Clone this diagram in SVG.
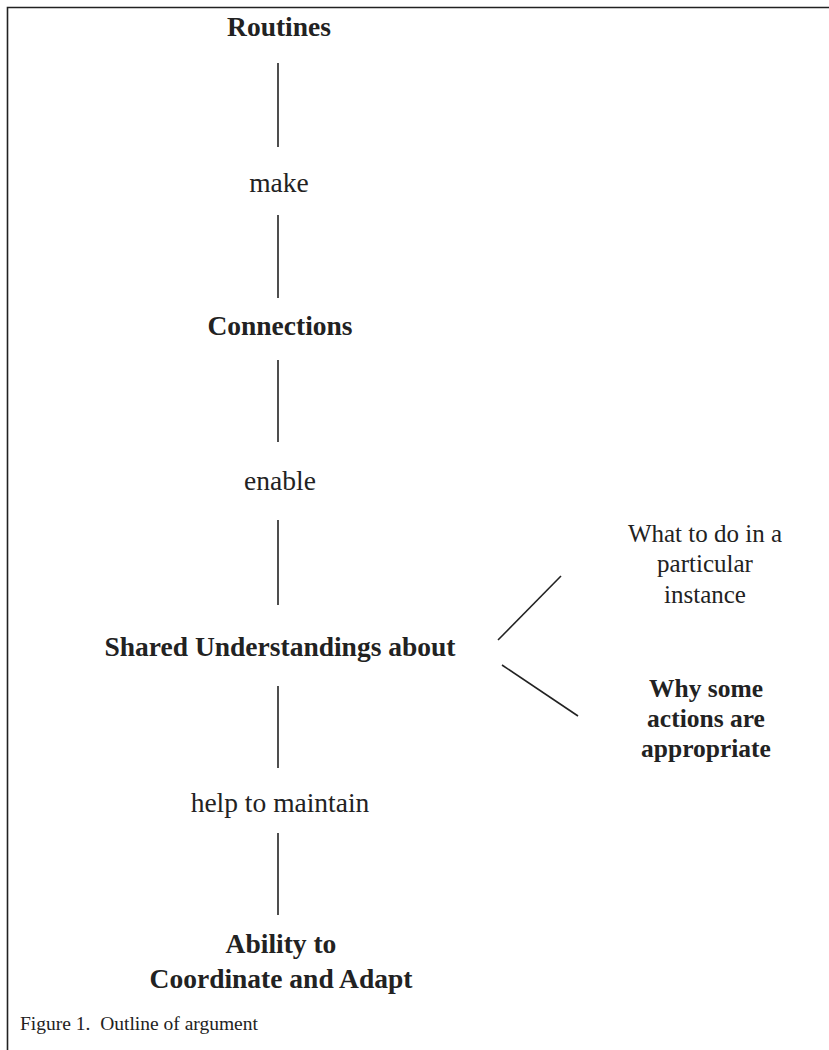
<svg xmlns="http://www.w3.org/2000/svg" width="829" height="1050" viewBox="0 0 829 1050">
<style>
text{font-family:"Liberation Serif","Times New Roman",serif;fill:#222;text-anchor:middle}
.b{font-weight:bold;font-size:27.5px}
.n{font-size:27.5px}
.rn{font-size:25px}
.rb{font-size:25.5px;font-weight:bold}
.c{font-size:19.5px;text-anchor:start}
.ln{stroke:#222;stroke-width:1.6;fill:none}
</style>
<rect x="0" y="0" width="829" height="1050" fill="#fff"/>
<path d="M7.5,1050 V7.5 H829" class="ln" stroke-width="1.5"/>
<g id="connectors">
<line class="ln" x1="278" y1="63" x2="278" y2="147"/>
<line class="ln" x1="278" y1="215" x2="278" y2="298"/>
<line class="ln" x1="278" y1="360" x2="278" y2="442"/>
<line class="ln" x1="278" y1="520" x2="278" y2="605"/>
<line class="ln" x1="278" y1="686" x2="278" y2="768"/>
<line class="ln" x1="278" y1="833" x2="278" y2="915"/>
<line class="ln" x1="498" y1="640" x2="561" y2="576"/>
<line class="ln" x1="502" y1="665" x2="578" y2="716"/>
</g>
<g id="routines"><text class="b" x="279" y="36">Routines</text></g>
<g id="make"><text class="n" x="279" y="192">make</text></g>
<g id="connections"><text class="b" x="280" y="335">Connections</text></g>
<g id="enable"><text class="n" x="280" y="490">enable</text></g>
<g id="shared"><text class="b" x="280" y="656">Shared Understandings about</text></g>
<g id="what"><text class="rn" x="705" y="542">What to do in a</text><text class="rn" x="705" y="572">particular</text><text class="rn" x="705" y="603">instance</text></g>
<g id="why"><text class="rb" x="706" y="697">Why some</text><text class="rb" x="706" y="727">actions are</text><text class="rb" x="706" y="757">appropriate</text></g>
<g id="help"><text class="n" x="280" y="812">help to maintain</text></g>
<g id="ability"><text class="b" x="281" y="953">Ability to</text><text class="b" x="281" y="988">Coordinate and Adapt</text></g>
<g id="caption"><text class="c" x="20" y="1030" xml:space="preserve">Figure 1.  Outline of argument</text></g>
</svg>
